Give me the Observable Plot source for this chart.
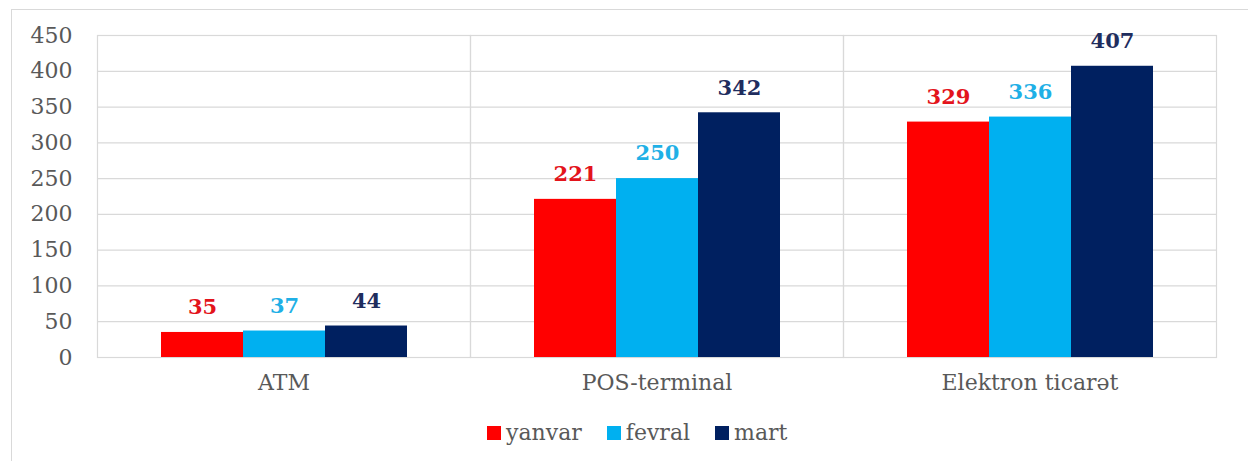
<!DOCTYPE html>
<html>
<head>
<meta charset="utf-8">
<script src="https://cdn.jsdelivr.net/npm/d3@7"></script>
<script src="https://cdn.jsdelivr.net/npm/@observablehq/plot@0.6"></script>
<style>
  html, body { margin: 0; padding: 0; background: #fff; overflow: hidden; }
  #wrap { position: relative; width: 1248px; height: 461px; overflow: hidden; }
  #frame { position: absolute; left: 11px; top: 9px; width: 1300px; height: 500px; border: 1px solid #d9d9d9; box-sizing: border-box; }
  #chart { position: absolute; left: 0; top: 0; }
  #legend { position: absolute; left: 487px; top: 420px; display: flex; align-items: center; font-family: "DejaVu Serif", serif; font-size: 22px; color: #595959; }
  .item { display: flex; align-items: center; margin-right: 25px; }
  .sw { width: 14px; height: 14px; margin-right: 5px; }
</style>
</head>
<body>
<div id="wrap">
  <div id="frame"></div>
  <div id="chart"></div>
  <div id="legend"></div>
</div>
<script>
const categories = ["ATM", "POS-terminal", "Elektron ticarət"];
const months = ["yanvar", "fevral", "mart"];
const yanvar = [35, 221, 329];
const fevral = [37, 250, 336];
const mart = [44, 342, 407];
const barColors = ["#ff0000", "#00b0f0", "#002060"];
const labelColors = ["#e3141c", "#1fb0e6", "#1f2d5e"];
const yTicks = [0, 50, 100, 150, 200, 250, 300, 350, 400, 450];

const series = [yanvar, fevral, mart];
const data = [];
categories.forEach((c, i) => {
  months.forEach((m, j) => {
    data.push({cat: c, month: m, value: series[j][i]});
  });
});

const textMarks = months.map((m, j) =>
  Plot.text(data.filter(d => d.month === m), {
    fx: "cat", x: "month", y: "value", text: d => String(d.value),
    fill: labelColors[j], dy: -25, fontSize: 21, fontWeight: "bold",
    fontFamily: "DejaVu Serif"
  })
);

const plot = Plot.plot({
  width: 1248,
  height: 400,
  marginLeft: 97,
  marginRight: 32,
  marginTop: 35,
  marginBottom: 43,
  style: {fontFamily: "DejaVu Serif", fontSize: "22px", color: "#595959", background: "transparent"},
  fx: {domain: categories, padding: 0, label: null, axis: "bottom", tickSize: 0, tickPadding: 17},
  x: {domain: months, paddingInner: 0, paddingOuter: 0.75, axis: null},
  y: {domain: [0, 450], ticks: yTicks, tickSize: 0, tickPadding: 25, label: null},
  color: {domain: months, range: barColors},
  marks: [
    Plot.ruleY(yTicks, {stroke: "#d9d9d9", strokeWidth: 1.2}),
    Plot.frame({stroke: "#d9d9d9", strokeWidth: 1.2}),
    Plot.barY(data, {fx: "cat", x: "month", y: "value", fill: "month", inset: 0}),
    ...textMarks
  ]
});
document.getElementById("chart").appendChild(plot);

const legend = document.getElementById("legend");
months.forEach((m, j) => {
  const it = document.createElement("div");
  it.className = "item";
  const sw = document.createElement("span");
  sw.className = "sw";
  sw.style.background = barColors[j];
  const tx = document.createElement("span");
  tx.textContent = m;
  it.appendChild(sw);
  it.appendChild(tx);
  legend.appendChild(it);
});
</script>
</body>
</html>
